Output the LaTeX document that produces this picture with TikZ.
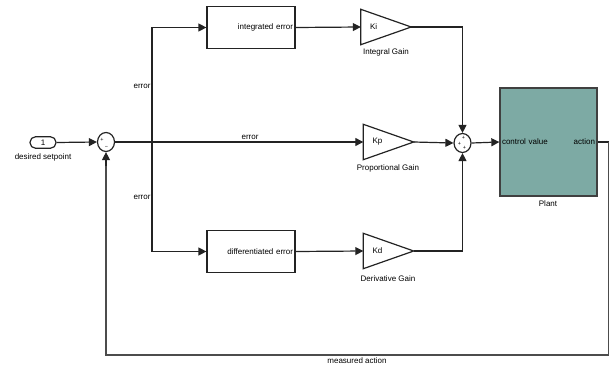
\documentclass[tikz,border=0pt]{standalone}
\usepackage{fontspec}
\setmainfont{Liberation Sans}
\usetikzlibrary{arrows.meta,shapes.geometric}
\definecolor{plantfill}{RGB}{125,170,164}
\definecolor{lnc}{RGB}{35,35,35}
\tikzset{
  every node/.style={font=\fontsize{8}{9}\selectfont, text=black},
  wire/.style={draw=lnc, line width=1.2pt},
  arr/.style={wire, -{Triangle[length=8pt,width=8pt]}},
  fb/.style={draw=black!70, line width=1.8pt},
  blk/.style={draw=lnc, line width=1.2pt, minimum width=88pt, minimum height=42pt, text width=84pt, align=right, inner sep=2pt},
  gainb/.style={minimum width=50pt, minimum height=35pt, text width=32pt, inner xsep=9pt, inner ysep=0pt, align=left},
  sumc/.style={draw=lnc, line width=1.2pt, ellipse, minimum width=17pt, minimum height=19pt, inner sep=0pt},
  lbl/.style={inner sep=1pt},
  sgn/.style={font=\fontsize{5.5}{5.5}\selectfont, inner sep=0pt},
}
\begin{document}
\begin{tikzpicture}[x=1pt,y=-1pt]
\useasboundingbox (0,0) rectangle (610,364);
% inport
\node[draw=lnc, line width=1.2pt, rounded corners=5.5pt, minimum width=26pt, minimum height=11.5pt, inner sep=0pt] (in) at (43,142.5) {1};
\node[lbl] (inl) at (43,157) {desired setpoint};
% left sum
\node[sumc] (s1) at (106,142) {};
\node[sgn] (s1p) at (102,139.5) {+};
\node[sgn] (s1m) at (106.5,147) {\textminus};
\coordinate (br) at (152,142);
\fill[lnc] (br) circle (1.8pt);
% blocks
\node[blk] (ie) at (251,27.5) {integrated error};
\node[blk] (de) at (251,251.5) {differentiated error};
\node[gainb] (ki) at (386,27) {Ki};
\node[gainb] (kp) at (388.5,142) {Kp};
\node[gainb] (kd) at (388.5,251) {Kd};
\foreach \g in {ki,kp,kd}{\draw[wire] (\g.north west) -- (\g.east) -- (\g.south west) -- cycle;}
\node[lbl] (kil) at (386,52) {Integral Gain};
\node[lbl] (kpl) at (388,168) {Proportional Gain};
\node[lbl] (kdl) at (388,278.5) {Derivative Gain};
% right sum
\node[sumc] (s2) at (462.5,143) {};
\node[sgn] (s2a) at (463.5,138) {+};
\node[sgn] (s2b) at (459.5,143.5) {+};
\node[sgn] (s2c) at (464.5,147.5) {+};
% plant
\node[draw=black!75, line width=1.3pt, fill=plantfill, minimum width=97pt, minimum height=108pt, text width=93pt, inner sep=2pt] (pl) at (548.5,142) {control value\hfill action};
\node[lbl] (pll) at (548,204) {Plant};
% wires
\draw[arr] (in.east) -- (s1.west);
\draw[wire] (s1.east) -- (br);
\draw[arr] (br) -- (kp.west);
\draw[arr] (br) |- (ie.west);
\draw[arr] (br) |- (de.west);
\draw[arr] (ie.east) -- (ki.west);
\draw[arr] (de.east) -- (kd.west);
\draw[arr] (ki.east) -| (s2.north);
\draw[arr] (kd.east) -| (s2.south);
\draw[arr] (kp.east) -- (s2.west);
\draw[arr] (s2.east) -- (pl.west);
\coordinate (fr) at (608.5,142);
\coordinate (fbr) at (608.5,355);
\draw[wire] (pl.east) -- (fr);
\draw[fb] (fr) -- (fbr) -| (106,165);
\draw[arr] (106,166) -- (s1.south);
% labels
\node[lbl] (e1) at (142,86) {error};
\node[lbl] (e2) at (250,137) {error};
\node[lbl] (e3) at (142,197) {error};
\node[lbl] (ma) at (357,360.5) {measured action};
\end{tikzpicture}
\end{document}
